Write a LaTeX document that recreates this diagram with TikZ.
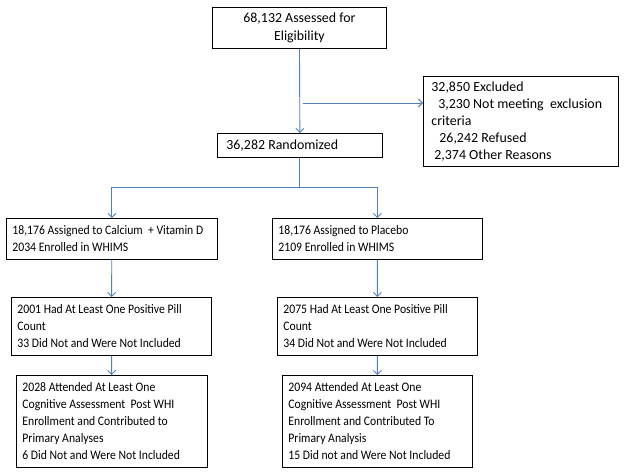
\documentclass[tikz,border=0pt]{standalone}
\usepackage{fontspec}
\setmainfont{Carlito}
\newfontfamily\narrowfont[FakeStretch=0.9]{Carlito}
\usetikzlibrary{arrows.meta}
\definecolor{linkblue}{RGB}{79,129,189}
\begin{document}
\begin{tikzpicture}[x=1bp,y=-1bp,
  box/.style={draw=black, line width=0.8bp, anchor=north west, align=flush left,
    inner xsep=6bp, inner ysep=0pt, font=\fontsize{13.9bp}{17bp}\selectfont},
  lowbox/.style={box, font=\narrowfont\fontsize{13bp}{17bp}\selectfont},
  linkline/.style={draw=linkblue, line width=0.9bp},
  link/.style={linkline, -{Straight Barb[length=4bp,width=8bp]}},
]
\useasboundingbox (0,0) rectangle (629,475);

\node[box, align=flush center, text width=162bp, minimum height=41bp, font=\fontsize{13.9bp}{18bp}\selectfont] (assess) at (212,7) {68,132 Assessed for\\Eligibility};
\node[box, inner xsep=9bp, text width=147bp, minimum height=24bp] (random) at (217,133) {36,282 Randomized};
\node[box, inner xsep=8bp, text width=179bp, minimum height=90bp] (excl) at (423,76)
  {32,850 Excluded\\
   \hspace*{7bp}3,230 Not meeting\ \ exclusion\\
   criteria\\
   \hspace*{8bp}26,242 Refused\\
   \hspace*{3bp}2,374 Other Reasons};

\node[lowbox, text width=199bp, minimum height=41bp] (calc) at (6,218)
  {18,176 Assigned to Calcium\ \ + Vitamin D\\2034 Enrolled in WHIMS};
\node[lowbox, text width=198bp, minimum height=41bp] (plac) at (272,218)
  {18,176 Assigned to Placebo\\2109 Enrolled in WHIMS};

\node[lowbox, text width=188bp, minimum height=58bp] (pillL) at (11,297)
  {2001 Had At Least One Positive Pill\\Count\\33 Did Not and Were Not Included};
\node[lowbox, text width=188bp, minimum height=58bp] (pillR) at (277,297)
  {2075 Had At Least One Positive Pill\\Count\\34 Did Not and Were Not Included};

\node[lowbox, text width=179bp, minimum height=92bp] (cogL) at (16,375)
  {2028 Attended At Least One\\Cognitive Assessment\ \ Post WHI\\Enrollment and Contributed to\\Primary Analyses\\6 Did Not and Were Not Included};
\node[lowbox, text width=178bp, minimum height=92bp] (cogR) at (282,375)
  {2094 Attended At Least One\\Cognitive Assessment\ \ Post WHI\\Enrollment and Contributed To\\Primary Analysis\\15 Did not and Were Not Included};

\draw[link] (assess) -- (random);
\coordinate (exstart) at (303,103);
\draw[link] (exstart) -- (exstart -| excl.west);
\draw[linkline] (random.south) -- (random.south |- 0,187) coordinate (fork);
\draw[link] (fork) -| (calc.north);
\draw[link] (fork) -| (plac.north);
\draw[link] (calc) -- (pillL);
\draw[link] (plac) -- (pillR);
\draw[link] (pillL) -- (cogL);
\draw[link] (pillR) -- (cogR);
\end{tikzpicture}
\end{document}
